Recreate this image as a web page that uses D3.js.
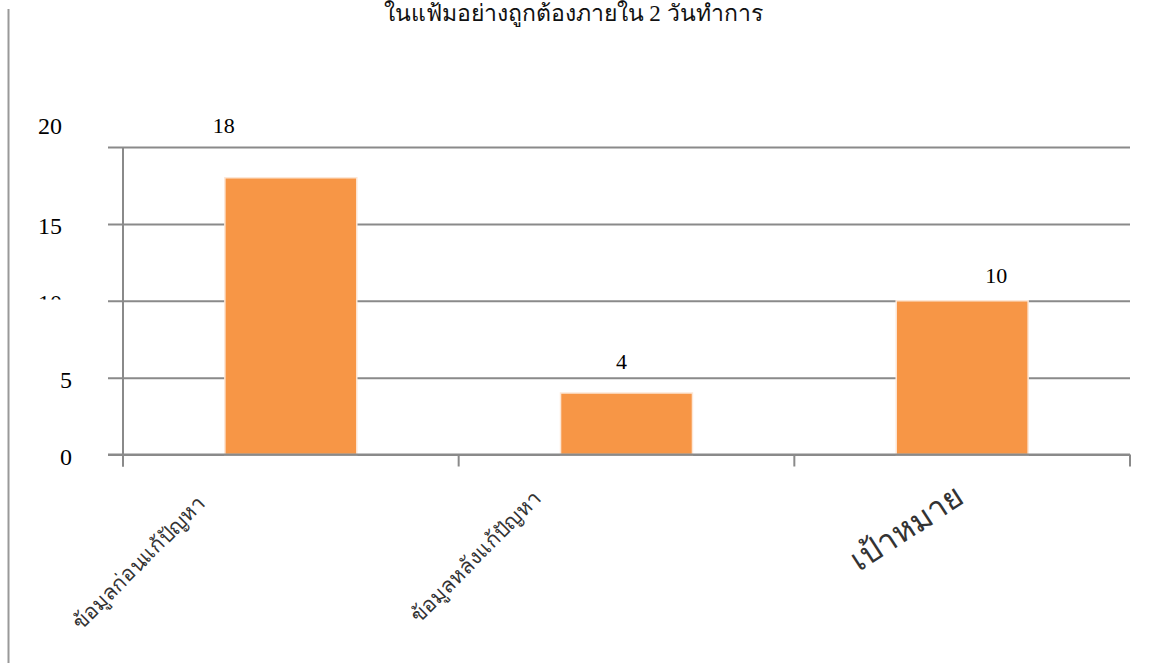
<!DOCTYPE html>
<html>
<head>
<meta charset="utf-8">
<script src="https://cdn.jsdelivr.net/npm/d3@7/dist/d3.min.js"></script>
<style>
  html, body { margin: 0; padding: 0; background: #fff; }
  svg { display: block; }
</style>
</head>
<body>
<svg id="chart" width="1166" height="669"></svg>
<script>
// Chart content
const titleText = "ในแฟ้มอย่างถูกต้องภายใน 2 วันทำการ";
const categories = ["ข้อมูลก่อนแก้ปัญหา", "ข้อมูลหลังแก้ปัญหา", "เป้าหมาย"];
const values = [18, 4, 10];
const yTickValues = [0, 5, 10, 15, 20];

const svg = d3.select("#chart");

const plot = { left: 123, right: 1130, top: 147, bottom: 454.5 };

const x = d3.scaleBand()
  .domain(categories)
  .range([plot.left, plot.right])
  .paddingInner(0.607)
  .paddingOuter(0.3035);

const y = d3.scaleLinear()
  .domain([0, 20])
  .range([plot.bottom, plot.top]);

const gridColor = "#8a8a8a";
const serif = "'Liberation Serif', 'Times New Roman', serif";

// outer frame line on the left
svg.append("line")
  .attr("x1", 8.5).attr("x2", 8.5)
  .attr("y1", 9).attr("y2", 663)
  .attr("stroke", "#999").attr("stroke-width", 2);

// title
svg.append("text")
  .attr("x", 573).attr("y", 21)
  .attr("text-anchor", "middle")
  .attr("font-family", serif)
  .attr("font-size", 23)
  .attr("fill", "#111")
  .text(titleText);

// horizontal gridlines with outside tick stubs
const gridAxis = d3.axisLeft(y)
  .tickValues(yTickValues)
  .tickSize(-(plot.right - (plot.left - 15)))
  .tickFormat("");
const gridG = svg.append("g")
  .attr("transform", `translate(${plot.left - 15},0)`)
  .call(gridAxis);
gridG.select(".domain").remove();
gridG.selectAll(".tick line")
  .attr("stroke", gridColor)
  .attr("stroke-width", 2);

// y tick labels ("10" sits mostly hidden behind its gridline)
svg.append("clipPath").attr("id", "clipTen")
  .append("rect").attr("x", 0).attr("y", 0).attr("width", 120).attr("height", 299.5);

yTickValues.forEach(v => {
  const two = String(v).length > 1;
  const t = svg.append("text")
    .attr("x", two ? 62 : 72)
    .attr("y", y(v) + (v === 20 ? -21 : 2))
    .attr("dy", "0.35em")
    .attr("text-anchor", "end")
    .attr("font-family", serif)
    .attr("font-size", 24)
    .attr("fill", "#000")
    .text(v);
  if (v === 10) t.attr("clip-path", "url(#clipTen)");
});

// vertical value axis
svg.append("line")
  .attr("x1", plot.left).attr("x2", plot.left)
  .attr("y1", plot.top).attr("y2", plot.bottom + 12)
  .attr("stroke", gridColor).attr("stroke-width", 2);

// category boundary ticks
const bounds = d3.range(categories.length + 1).map(i => plot.left + i * x.step());
svg.selectAll("line.ctick").data(bounds).enter().append("line")
  .attr("class", "ctick")
  .attr("x1", d => d).attr("x2", d => d)
  .attr("y1", plot.bottom).attr("y2", plot.bottom + 12)
  .attr("stroke", gridColor).attr("stroke-width", 2);

// bars
svg.selectAll("rect.bar").data(values).enter().append("rect")
  .attr("class", "bar")
  .attr("x", (d, i) => x(categories[i]))
  .attr("y", d => y(d))
  .attr("width", x.bandwidth())
  .attr("height", d => y(0) - y(d))
  .attr("fill", "#F79646")
  .attr("stroke", "#fde7d6")
  .attr("stroke-width", 1.5);

// category axis baseline drawn above bars
svg.append("line")
  .attr("x1", plot.left - 15).attr("x2", plot.right)
  .attr("y1", plot.bottom).attr("y2", plot.bottom)
  .attr("stroke", gridColor).attr("stroke-width", 2);

// value labels
const labelDx = [-67, -5, 34];
const labelDy = [-45, -24, -18];
svg.selectAll("text.val").data(values).enter().append("text")
  .attr("class", "val")
  .attr("x", (d, i) => x(categories[i]) + x.bandwidth() / 2 + labelDx[i])
  .attr("y", (d, i) => y(d) + labelDy[i])
  .attr("text-anchor", "middle")
  .attr("font-family", serif)
  .attr("font-size", 22)
  .attr("fill", "#000")
  .text(d => d);

// rotated category labels
const catDx = [-84, -84, 4];
const catY = [505, 500, 502];
const catSize = [21, 21, 32];
const catAngle = [-45, -45, -33];
categories.forEach((c, i) => {
  const cx = x(c) + x.bandwidth() / 2 + catDx[i];
  svg.append("text")
    .attr("transform", `translate(${cx},${catY[i]}) rotate(${catAngle[i]})`)
    .attr("text-anchor", "end")
    .attr("font-family", "'DejaVu Sans', sans-serif")
    .attr("font-size", catSize[i])
    .attr("fill", "#333")
    .text(c);
});
</script>
</body>
</html>
